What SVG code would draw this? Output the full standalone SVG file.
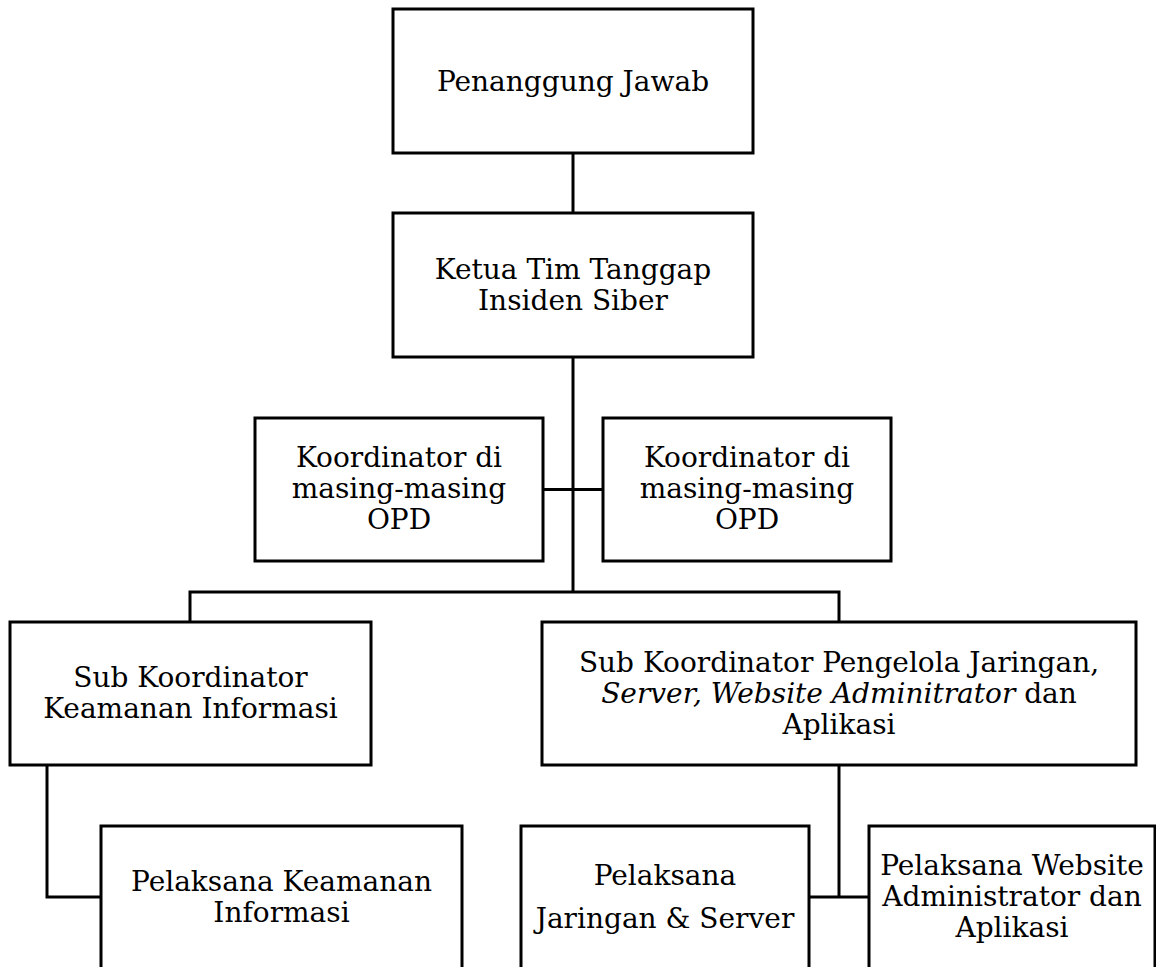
<svg xmlns="http://www.w3.org/2000/svg" width="1156" height="967" viewBox="0 0 1156 967">
<style>
.box{fill:#fff;stroke:#000;stroke-width:3}
.ln{fill:none;stroke:#000;stroke-width:3}
text{font-family:"DejaVu Serif","Liberation Serif",serif;font-size:28px;fill:#000;text-anchor:middle}
.it{font-style:italic}
</style>
<rect width="1156" height="967" fill="#fff"/>
<g id="connectors">
<path class="ln" d="M573 153V213"/>
<path class="ln" d="M573 357V592"/>
<path class="ln" d="M543 489.5H603"/>
<path class="ln" d="M190 622V592H839V622"/>
<path class="ln" d="M47 765V897H101"/>
<path class="ln" d="M839 765V897"/>
<path class="ln" d="M809 897H869"/>
</g>
<g id="penanggung-jawab">
<rect class="box" x="393" y="9" width="360" height="144"/>
<text x="573" y="91">Penanggung Jawab</text>
</g>
<g id="ketua">
<rect class="box" x="393" y="213" width="360" height="144"/>
<text x="573" y="279">Ketua Tim Tanggap</text>
<text x="573" y="310">Insiden Siber</text>
</g>
<g id="koordinator-kiri">
<rect class="box" x="255" y="418" width="288" height="143"/>
<text x="399" y="467">Koordinator di</text>
<text x="399" y="498">masing-masing</text>
<text x="399" y="529">OPD</text>
</g>
<g id="koordinator-kanan">
<rect class="box" x="603" y="418" width="288" height="143"/>
<text x="747" y="467">Koordinator di</text>
<text x="747" y="498">masing-masing</text>
<text x="747" y="529">OPD</text>
</g>
<g id="sub-keamanan">
<rect class="box" x="10" y="622" width="361" height="143"/>
<text x="190.5" y="687">Sub Koordinator</text>
<text x="190.5" y="718">Keamanan Informasi</text>
</g>
<g id="sub-jaringan">
<rect class="box" x="542" y="622" width="594" height="143"/>
<text x="839" y="672">Sub Koordinator Pengelola Jaringan,</text>
<text x="839" y="703"><tspan class="it">Server, Website Adminitrator</tspan> dan</text>
<text x="839" y="734">Aplikasi</text>
</g>
<g id="pelaksana-keamanan">
<rect class="box" x="101" y="826" width="361" height="170"/>
<text x="281.5" y="891">Pelaksana Keamanan</text>
<text x="281.5" y="922">Informasi</text>
</g>
<g id="pelaksana-jaringan">
<rect class="box" x="521" y="826" width="288" height="170"/>
<text x="665" y="885">Pelaksana</text>
<text x="665" y="928">Jaringan &amp; Server</text>
</g>
<g id="pelaksana-website">
<rect class="box" x="869" y="826" width="286" height="170"/>
<text x="1012" y="875">Pelaksana Website</text>
<text x="1012" y="906">Administrator dan</text>
<text x="1012" y="937">Aplikasi</text>
</g>
</svg>
